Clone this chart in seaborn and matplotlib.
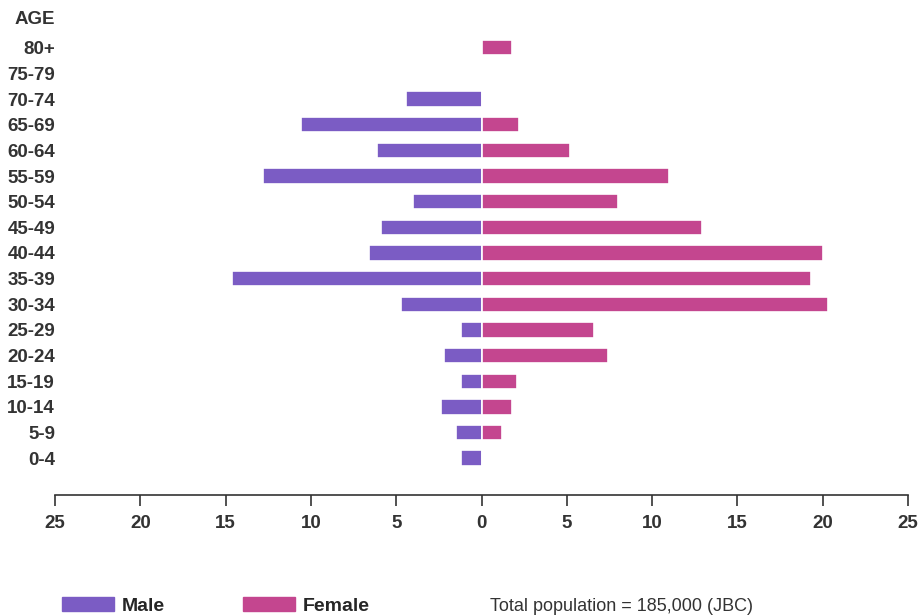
import pandas as pd
import seaborn as sns
import matplotlib.pyplot as plt
import matplotlib.transforms as mtransforms
from matplotlib.patches import Patch

sns.set_style("white")
plt.rcParams['font.family'] = ['Liberation Sans', 'DejaVu Sans']

ages = ["80+", "75-79", "70-74", "65-69", "60-64", "55-59", "50-54", "45-49",
        "40-44", "35-39", "30-34", "25-29", "20-24", "15-19", "10-14", "5-9", "0-4"]
male = [0, 0, 4.4, 10.6, 6.1, 12.8, 4.0, 5.9, 6.6, 14.6, 4.7, 1.2, 2.2, 1.2, 2.4, 1.5, 1.2]
female = [1.8, 0, 0, 2.2, 5.2, 11.0, 8.0, 12.9, 20.0, 19.3, 20.3, 6.6, 7.4, 2.1, 1.8, 1.2, 0]
ticks = [-25, -20, -15, -10, -5, 0, 5, 10, 15, 20, 25]

male_col = "#7b5cc4"
female_col = "#c4468f"

df = pd.DataFrame({"age": ages * 2,
                   "value": [-m for m in male] + female,
                   "sex": ["Male"] * len(ages) + ["Female"] * len(ages)})

fig = plt.figure(figsize=(9.24, 6.15), dpi=100)
ax = fig.add_axes([55 / 924, 0.195, (908 - 55) / 924, 0.789])

sns.barplot(data=df, x="value", y="age", hue="sex", order=ages,
            palette={"Male": male_col, "Female": female_col},
            dodge=False, orient="h", width=0.6, saturation=1,
            edgecolor="white", linewidth=1.2, ax=ax, legend=False)

ax.set_xlim(-25, 25)
ax.set_ylim(17.44, -1.48)
ax.set_xticks(ticks)
ax.set_xticklabels([str(abs(t)) for t in ticks], fontsize=13.5, fontweight="bold",
                   color="#333333")
ax.tick_params(axis="x", bottom=True, direction="out", length=8, width=1.2,
               color="#333333", pad=6)
ax.tick_params(axis="y", left=False, length=0, pad=0)
for lab in ax.get_yticklabels():
    lab.set_fontsize(13.5)
    lab.set_fontweight("bold")
    lab.set_color("#333333")
ax.set_xlabel("")
ax.set_ylabel("")
for s in ["top", "left", "right"]:
    ax.spines[s].set_visible(False)
ax.spines["bottom"].set_color("#333333")
ax.spines["bottom"].set_linewidth(1.2)

trans = mtransforms.blended_transform_factory(ax.transAxes, ax.transData)
ax.text(0, -1.1, "AGE", transform=trans, ha="right", va="center",
        fontsize=13.5, fontweight="bold", color="#333333")

handles = [Patch(color=male_col, label="Male"), Patch(color=female_col, label="Female")]
fig.legend(handles=handles, loc="lower left", bbox_to_anchor=(44 / 924, -0.028),
           ncol=2, frameon=False, handlelength=2.7, handleheight=0.8,
           columnspacing=4.0, handletextpad=0.4,
           prop={"weight": "bold", "size": 14})
fig.text(490 / 924, 0.006, "Total population = 185,000 (JBC)", fontsize=13,
         color="#333333")

fig.savefig("out.png", dpi=100)
